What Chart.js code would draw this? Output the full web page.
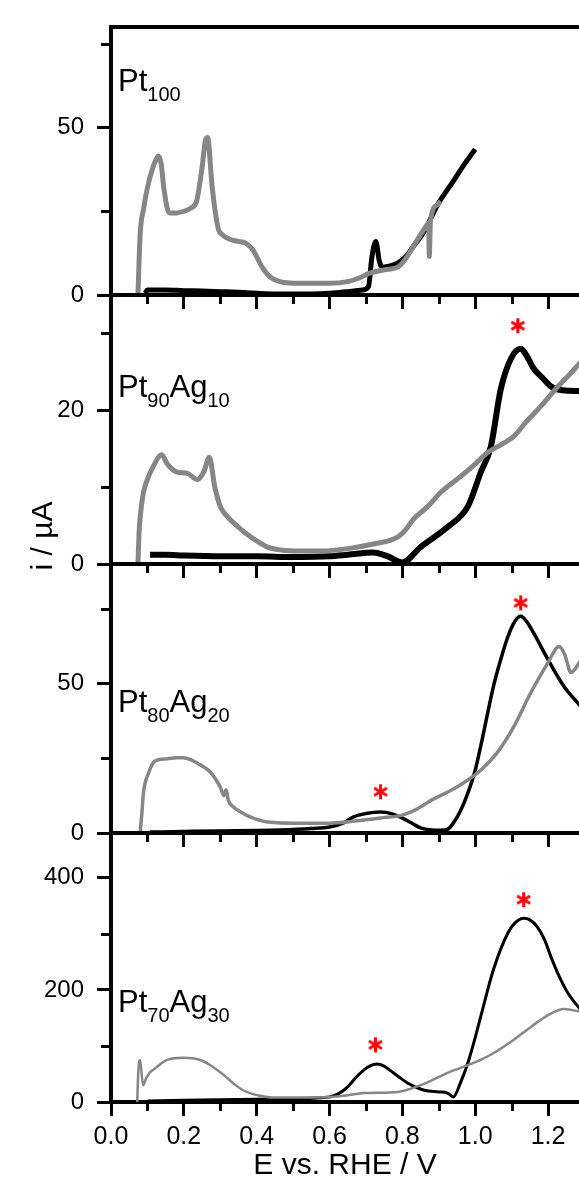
<!DOCTYPE html>
<html>
<head>
<meta charset="utf-8">
<script src="https://cdn.jsdelivr.net/npm/chart.js@4.4.1/dist/chart.umd.min.js"></script>
<style>
  html, body { margin: 0; padding: 0; background: #fff; }
  body { width: 579px; height: 1182px; position: relative; overflow: hidden; }
  canvas { position: absolute; left: 0; }
</style>
</head>
<body>
<canvas id="p1" width="579" height="308" style="top:7px"></canvas>
<canvas id="p2" width="579" height="309" style="top:275px"></canvas>
<canvas id="p3" width="579" height="309" style="top:544px"></canvas>
<canvas id="p4" width="579" height="369" style="top:813px"></canvas>
<script>
// Data (E in V vs RHE, i in µA)

// Pt100
const pt100GrayE = [0.074, 0.080, 0.090, 0.100, 0.112, 0.122, 0.130, 0.138, 0.145, 0.160, 0.180, 0.200, 0.220, 0.235, 0.250, 0.259, 0.265, 0.278, 0.294, 0.305, 0.330, 0.350, 0.370, 0.390, 0.415, 0.437, 0.490, 0.550, 0.600, 0.650, 0.680, 0.710, 0.750, 0.790, 0.810, 0.830, 0.850, 0.868, 0.872, 0.874, 0.877, 0.897, 0.905];
const pt100GrayI = [0, 18, 26, 32, 37, 40, 41.5, 39, 32, 24.5, 24.5, 25, 26, 28, 38, 46, 47, 32, 20, 18, 16.5, 16, 15.5, 13.4, 8.3, 5.4, 3.6, 3.5, 3.5, 4, 5, 6.5, 7.5, 8.5, 11, 14.5, 18, 21, 21.5, 11.5, 22, 27, 28];
const pt100BlackE = [0.094, 0.100, 0.150, 0.200, 0.250, 0.300, 0.350, 0.400, 0.450, 0.500, 0.550, 0.600, 0.650, 0.690, 0.707, 0.716, 0.727, 0.737, 0.745, 0.760, 0.787, 0.810, 0.830, 0.860, 0.897, 0.940, 0.970, 1.000];
const pt100BlackI = [0.5, 1.5, 1.5, 1.3, 1.2, 1.0, 0.8, 0.5, 0.3, 0.3, 0.3, 0.5, 1.0, 1.5, 2.5, 11, 16, 10, 8.3, 8.5, 9.5, 11.5, 14.5, 19, 27, 34, 39, 43.5];

// Pt90Ag10
const pt90GrayE = [0.074, 0.077, 0.080, 0.089, 0.100, 0.116, 0.139, 0.155, 0.180, 0.210, 0.237, 0.255, 0.270, 0.285, 0.300, 0.310, 0.340, 0.370, 0.400, 0.430, 0.470, 0.520, 0.580, 0.650, 0.720, 0.787, 0.810, 0.830, 0.870, 0.905, 0.960, 1.000, 1.034, 1.070, 1.106, 1.140, 1.180, 1.227, 1.260, 1.290];
const pt90GrayI = [0, 4, 6, 9.3, 11, 12.7, 14.2, 13, 12, 11.8, 11, 12, 13.9, 10, 7.5, 6.7, 5.2, 4, 3, 2.2, 1.8, 1.7, 1.7, 2.0, 2.6, 3.5, 4.5, 5.8, 7.5, 9.3, 11.4, 13, 14.5, 15.5, 16.6, 18.5, 20.5, 23.1, 24.7, 26.3];
const pt90BlackE = [0.107, 0.150, 0.200, 0.300, 0.400, 0.500, 0.600, 0.650, 0.720, 0.760, 0.800, 0.850, 0.924, 0.980, 1.015, 1.043, 1.070, 1.098, 1.125, 1.140, 1.161, 1.185, 1.208, 1.240, 1.290];
const pt90BlackI = [1.2, 1.2, 1.1, 1.0, 1.0, 0.9, 1.0, 1.2, 1.5, 1.0, 0.2, 2.2, 4.8, 7.5, 11.9, 15.3, 22.7, 26.7, 28, 27.2, 25.4, 24.2, 23.1, 22.6, 22.5];

// Pt80Ag20
const pt80GrayE = [0.080, 0.085, 0.089, 0.103, 0.116, 0.130, 0.154, 0.180, 0.198, 0.220, 0.245, 0.272, 0.290, 0.300, 0.310, 0.316, 0.322, 0.336, 0.360, 0.382, 0.430, 0.520, 0.600, 0.670, 0.740, 0.800, 0.840, 0.880, 0.950, 1.015, 1.060, 1.106, 1.153, 1.200, 1.230, 1.245, 1.263, 1.275, 1.290];
const pt80GrayI = [0, 7, 13.4, 20, 23.5, 24.5, 24.8, 25.2, 25.2, 24.5, 22.8, 20.5, 17.5, 15.4, 12.5, 14.5, 11, 8.7, 6.8, 5.4, 3.7, 3.3, 3.3, 4, 5, 6, 8, 11, 15.4, 21, 26.8, 35.6, 47, 57, 62.4, 60, 53.7, 55, 58];
const pt80BlackE = [0.107, 0.200, 0.300, 0.400, 0.465, 0.550, 0.600, 0.640, 0.666, 0.700, 0.740, 0.770, 0.800, 0.830, 0.850, 0.880, 0.905, 0.925, 0.940, 0.960, 0.980, 1.000, 1.015, 1.050, 1.070, 1.090, 1.110, 1.125, 1.140, 1.160, 1.200, 1.244, 1.290];
const pt80BlackI = [0.3, 0.5, 0.7, 0.8, 1.0, 1.5, 2, 3.5, 5.4, 6.5, 7, 6.5, 5, 3, 1.7, 1.0, 0.9, 1.3, 3.3, 7.5, 13.4, 21, 29, 49, 58, 65.8, 71, 72.5, 71, 67, 58, 49, 42.3];

// Pt70Ag30
const pt70GrayE = [0.072, 0.074, 0.077, 0.080, 0.088, 0.095, 0.107, 0.115, 0.125, 0.154, 0.198, 0.245, 0.272, 0.300, 0.319, 0.340, 0.363, 0.390, 0.410, 0.440, 0.470, 0.600, 0.650, 0.694, 0.787, 0.850, 0.924, 1.015, 1.060, 1.106, 1.153, 1.200, 1.244, 1.290];
const pt70GrayI = [0, 40, 70, 75, 30, 40, 53, 57, 62, 75, 79, 75, 66, 53, 43, 31, 21, 14, 11, 8, 8, 9, 12, 16, 18, 30, 52, 75, 91, 111, 134, 155, 166, 161];
const pt70BlackE = [0.100, 0.200, 0.300, 0.400, 0.500, 0.600, 0.625, 0.650, 0.670, 0.694, 0.710, 0.730, 0.750, 0.767, 0.790, 0.814, 0.860, 0.900, 0.924, 0.940, 0.960, 0.980, 1.000, 1.015, 1.050, 1.090, 1.110, 1.133, 1.150, 1.170, 1.190, 1.208, 1.230, 1.254, 1.290];
const pt70BlackI = [2, 3, 4, 5, 6, 9, 15, 27, 42, 57, 64, 68, 64, 56, 45, 34, 21, 18, 16, 9, 35, 70, 115, 152, 236, 302, 320, 328, 325, 313, 290, 259, 225, 195, 164];

// peak markers (red asterisks)
const pt90Stars = [{ x: 1.117, y: 31 }];
const pt80Stars = [{ x: 1.125, y: 77 }, { x: 0.74, y: 13.8 }];
const pt70Stars = [{ x: 1.133, y: 361 }, { x: 0.726, y: 102 }];

// axis ticks
const xMinorTicks = [0.1, 0.3, 0.5, 0.7, 0.9, 1.1];
const pt100YMinor = [25, 75];
const pt90YMinor = [10, 30];
const pt80YMinor = [25, 75];
const pt70YMinor = [100, 300];

const fontFamily = "'Liberation Sans', Arial, sans-serif";

function toPoints(es, is) {
    return es.map((e, k) => ({ x: e, y: is[k] }));
}

// six-armed asterisk used as point style
function makeStar() {
    const c = document.createElement('canvas');
    c.width = 17;
    c.height = 17;
    const g = c.getContext('2d');
    g.strokeStyle = '#ff0000';
    g.lineWidth = 3;
    for (let k = 0; k < 3; k++) {
        const a = Math.PI / 2 + k * Math.PI / 3;
        g.beginPath();
        g.moveTo(8.5 + 7.5 * Math.cos(a), 8.5 + 7.5 * Math.sin(a));
        g.lineTo(8.5 - 7.5 * Math.cos(a), 8.5 - 7.5 * Math.sin(a));
        g.stroke();
    }
    return c;
}
const starImg = makeStar();

// frame top line, minor ticks, panel label and shared y title
const panelDecor = {
    id: 'panelDecor',
    afterDraw(chart, args, opts) {
        const ctx = chart.ctx;
        const area = chart.chartArea;
        const xs = chart.scales.x;
        const ys = chart.scales.y;
        ctx.save();
        ctx.strokeStyle = '#000';
        ctx.lineWidth = 4;
        ctx.beginPath();
        ctx.moveTo(area.left - 2, area.top);
        ctx.lineTo(area.right, area.top);
        ctx.stroke();

        ctx.lineWidth = 3;
        ctx.beginPath();
        xMinorTicks.forEach(v => {
            const px = Math.round(xs.getPixelForValue(v)) + 0.5;
            ctx.moveTo(px, area.bottom);
            ctx.lineTo(px, area.bottom + 9);
        });
        opts.yMinor.forEach(v => {
            const py = Math.round(ys.getPixelForValue(v)) + 0.5;
            ctx.moveTo(area.left, py);
            ctx.lineTo(area.left - 10, py);
        });
        ctx.stroke();

        ctx.fillStyle = '#000';
        ctx.textBaseline = 'alphabetic';
        ctx.textAlign = 'left';
        let lx = area.left + 7;
        const base = area.top + opts.labelDY;
        opts.label.forEach(part => {
            ctx.font = (part.sub ? '20px ' : '31px ') + fontFamily;
            ctx.fillText(part.text, lx, part.sub ? base + 10 : base);
            lx += ctx.measureText(part.text).width;
        });

        if (opts.yTitle) {
            ctx.translate(52, area.bottom - 28);
            ctx.rotate(-Math.PI / 2);
            ctx.textAlign = 'center';
            ctx.font = '30px ' + fontFamily;
            ctx.fillText('i / µA', 0, 0);
        }
        ctx.restore();
    }
};

function makePanel(id, cfg) {
    const last = !!cfg.last;
    return new Chart(document.getElementById(id), {
        type: 'line',
        data: {
            datasets: [
                {
                    data: cfg.stars || [],
                    showLine: false,
                    pointStyle: starImg,
                    pointRadius: 8,
                    order: 0
                },
                {
                    data: toPoints(cfg.grayE, cfg.grayI),
                    borderColor: '#868686',
                    borderWidth: cfg.grayWidth,
                    pointRadius: 0,
                    cubicInterpolationMode: 'monotone',
                    order: 1
                },
                {
                    data: toPoints(cfg.blackE, cfg.blackI),
                    borderColor: '#000000',
                    borderWidth: cfg.blackWidth,
                    pointRadius: 0,
                    cubicInterpolationMode: 'monotone',
                    order: 2
                }
            ]
        },
        options: {
            responsive: false,
            animation: false,
            layout: { autoPadding: false, padding: { top: 20, left: 0, right: 0, bottom: 0 } },
            plugins: {
                legend: { display: false },
                tooltip: { enabled: false },
                panelDecor: {
                    yMinor: cfg.yMinor,
                    label: cfg.label,
                    labelDY: cfg.labelDY,
                    yTitle: !!cfg.yTitle
                }
            },
            scales: {
                x: {
                    type: 'linear',
                    min: 0,
                    max: 1.285,
                    border: { color: '#000', width: 4 },
                    grid: { drawOnChartArea: false, drawTicks: true, tickLength: 14, tickWidth: 3, color: '#000' },
                    ticks: {
                        display: last,
                        stepSize: 0.2,
                        includeBounds: false,
                        autoSkip: false,
                        maxRotation: 0,
                        color: '#000',
                        padding: 6,
                        font: { family: fontFamily, size: 25 },
                        callback: v => v.toFixed(1)
                    },
                    title: {
                        display: last,
                        text: 'E vs. RHE / V',
                        color: '#000',
                        font: { family: fontFamily, size: 30, lineHeight: 1 },
                        padding: { top: 0, bottom: 1 }
                    },
                    afterFit: s => {
                        s.height = last ? 80 : 20;
                        s.paddingLeft = 0;
                        s.paddingRight = 0;
                    }
                },
                y: {
                    min: 0,
                    max: cfg.yMax,
                    border: { color: '#000', width: 4 },
                    grid: { drawOnChartArea: false, drawTicks: true, tickLength: 14, tickWidth: 3, color: '#000' },
                    ticks: {
                        stepSize: cfg.yStep,
                        includeBounds: false,
                        color: '#000',
                        padding: 13,
                        font: { family: fontFamily, size: 24 }
                    },
                    afterFit: s => {
                        s.width = 111;
                        s.paddingTop = 0;
                        s.paddingBottom = 0;
                    }
                }
            }
        },
        plugins: [panelDecor]
    });
}

makePanel('p1', {
    grayE: pt100GrayE, grayI: pt100GrayI, blackE: pt100BlackE, blackI: pt100BlackI,
    grayWidth: 5, blackWidth: 5, yMax: 80, yStep: 50, yMinor: pt100YMinor,
    label: [{ text: 'Pt' }, { text: '100', sub: true }], labelDY: 64
});
makePanel('p2', {
    grayE: pt90GrayE, grayI: pt90GrayI, blackE: pt90BlackE, blackI: pt90BlackI,
    stars: pt90Stars, grayWidth: 5, blackWidth: 6, yMax: 35, yStep: 20, yMinor: pt90YMinor,
    label: [{ text: 'Pt' }, { text: '90', sub: true }, { text: 'Ag' }, { text: '10', sub: true }], labelDY: 102,
    yTitle: true
});
makePanel('p3', {
    grayE: pt80GrayE, grayI: pt80GrayI, blackE: pt80BlackE, blackI: pt80BlackI,
    stars: pt80Stars, grayWidth: 3.5, blackWidth: 3.5, yMax: 90, yStep: 50, yMinor: pt80YMinor,
    label: [{ text: 'Pt' }, { text: '80', sub: true }, { text: 'Ag' }, { text: '20', sub: true }], labelDY: 148
});
makePanel('p4', {
    grayE: pt70GrayE, grayI: pt70GrayI, blackE: pt70BlackE, blackI: pt70BlackI,
    stars: pt70Stars, grayWidth: 2.5, blackWidth: 3, yMax: 480, yStep: 200, yMinor: pt70YMinor,
    label: [{ text: 'Pt' }, { text: '70', sub: true }, { text: 'Ag' }, { text: '30', sub: true }], labelDY: 179,
    last: true
});
</script>
</body>
</html>
